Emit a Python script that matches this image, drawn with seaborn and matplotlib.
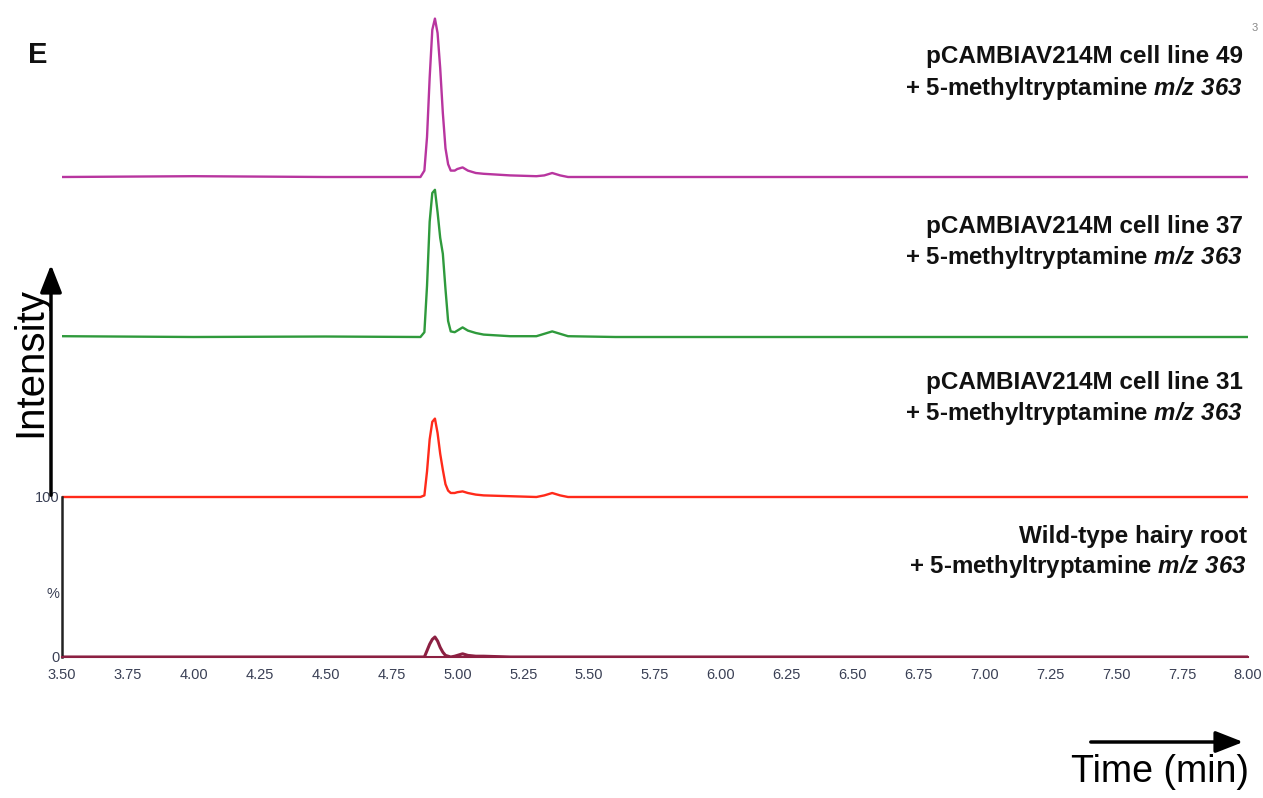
import matplotlib
matplotlib.use("Agg")
import matplotlib.pyplot as plt
import seaborn as sns
import pandas as pd

# ---- data ----
time_min = [3.50, 4.00, 4.50, 4.86, 4.875, 4.885, 4.895, 4.905, 4.915, 4.925, 4.935,
            4.945, 4.955, 4.965, 4.975, 4.99, 5.00, 5.02, 5.04, 5.07, 5.10, 5.20,
            5.30, 5.33, 5.36, 5.39, 5.42, 5.60, 6.00, 6.50, 7.00, 7.50, 8.00]
line49 = [0, 0.5, 0, 0, 4, 25, 62, 92, 99, 90, 68,
          40, 18, 8, 4, 4, 5, 6, 4, 2.5, 2, 1,
          0.5, 1, 2.5, 1, 0, 0, 0, 0, 0, 0, 0]
line37 = [0.5, 0, 0.3, 0, 3, 32, 72, 90, 92, 78, 62,
          52, 30, 10, 3.5, 3, 4, 6, 4, 2.5, 1.5, 0.5,
          0.5, 2, 3.5, 2, 0.5, 0, 0, 0, 0, 0, 0]
line31 = [0, 0, 0, 0, 1, 16, 36, 47, 49, 40, 27,
          17, 8, 4, 2.5, 2.5, 3, 3.5, 2.5, 1.5, 1, 0.5,
          0, 1, 2.5, 1, 0, 0, 0, 0, 0, 0, 0]
wildtype = [0, 0, 0, 0, 0, 4, 8, 11, 12.5, 10, 6,
            3, 1, 0.5, 0, 0.5, 1, 2, 1, 0.5, 0.5, 0,
            0, 0, 0, 0, 0, 0, 0, 0, 0, 0, 0]
offsets = [300, 200, 100, 0]
series_names = ["pCAMBIAV214M cell line 49", "pCAMBIAV214M cell line 37",
                "pCAMBIAV214M cell line 31", "Wild-type hairy root"]
colors = ["#b8359f", "#2f9a3c", "#ff2a1a", "#8c2042"]
x_ticks = [3.50, 3.75, 4.00, 4.25, 4.50, 4.75, 5.00, 5.25, 5.50, 5.75, 6.00,
           6.25, 6.50, 6.75, 7.00, 7.25, 7.50, 7.75, 8.00]

sns.set_style("white")
plt.rcParams['font.family'] = ['Liberation Sans', 'DejaVu Sans']
plt.rcParams['mathtext.fontset'] = 'custom'
plt.rcParams['mathtext.it'] = 'Liberation Sans:italic:bold'
plt.rcParams['mathtext.rm'] = 'Liberation Sans:italic:bold'
plt.rcParams['mathtext.bf'] = 'Liberation Sans:italic:bold'

fig = plt.figure(figsize=(12.63, 7.98), dpi=100)
ax = fig.add_axes([62 / 1263, 1 - 657 / 798, 1186 / 1263, 657 / 798])

traces = [line49, line37, line31, wildtype]
for vals, off, name, col in zip(traces, offsets, series_names, colors):
    df = pd.DataFrame({"t": time_min, "y": [v + off for v in vals]})
    sns.lineplot(data=df, x="t", y="y", ax=ax, color=col, lw=1.7 if off else 2.2,
                 estimator=None, sort=False)

ax.set_xlim(3.50, 8.00)
ax.set_ylim(0, 657 / 1.6)
ax.set_xlabel("")
ax.set_ylabel("")
for s in ["top", "right"]:
    ax.spines[s].set_visible(False)
ax.spines["left"].set_bounds(0, 100)
ax.spines["left"].set_linewidth(1.8)
ax.spines["bottom"].set_linewidth(1.5)
ax.spines["left"].set_color("#222222")
ax.spines["bottom"].set_color("#8c2042")
ax.set_xticks(x_ticks)
ax.set_xticklabels([f"{v:.2f}" for v in x_ticks], fontsize=10.5, color="#3a4055")
ax.set_yticks([0, 40, 100])
ax.set_yticklabels(["0", "%", "100"], fontsize=10.5, color="#3a4055")
ax.set_yticks([20, 50, 60, 80], minor=True)
ax.tick_params(axis="x", direction="out", length=4, width=1.2, color="#333333", pad=4)
ax.tick_params(axis="y", which="both", direction="in", length=4, width=1.2,
               color="#333333", pad=2)
ax.grid(False)

# right-aligned labels
label_y = [(56, 89), (226, 258), (382, 413), (536, 566)]
label_x = [1243, 1243, 1243, 1247]
for name, (y1, y2), xr in zip(series_names, label_y, label_x):
    fig.text(xr / 1263, 1 - y1 / 798, name, ha="right", va="center",
             fontsize=17.5, fontweight="bold", color="#111111")
    fig.text(xr / 1263, 1 - y2 / 798,
             r"+ 5-methyltryptamine $\mathit{m/z\ 363}$",
             ha="right", va="center", fontsize=17.3, fontweight="bold", color="#111111")

# panel letter and stray mark
fig.text(38 / 1263, 1 - 55 / 798, "E", fontsize=21, fontweight="bold",
         ha="center", va="center", color="#111111")
fig.text(1255 / 1263, 1 - 28 / 798, "3", fontsize=8, ha="center", va="center",
         color="#888888")

# Intensity arrow
fig.add_artist(matplotlib.patches.FancyArrowPatch(
    (51 / 1263, 1 - 498 / 798), (51 / 1263, 1 - 262 / 798),
    transform=fig.transFigure, arrowstyle="-|>,head_length=1.4,head_width=0.55",
    mutation_scale=12, lw=2.5, color="black"))
fig.text(30 / 1263, 1 - 362 / 798, "Intensity", rotation=90, fontsize=29,
         ha="center", va="center", color="black")

# Time arrow
fig.add_artist(matplotlib.patches.FancyArrowPatch(
    (1088 / 1263, 1 - 742 / 798), (1246 / 1263, 1 - 742 / 798),
    transform=fig.transFigure, arrowstyle="-|>,head_length=1.4,head_width=0.55",
    mutation_scale=12, lw=2.5, color="black"))
fig.text(1160 / 1263, 1 - 772 / 798, "Time (min)", fontsize=27,
         ha="center", va="center", color="black")

fig.savefig("out.png", dpi=100)
